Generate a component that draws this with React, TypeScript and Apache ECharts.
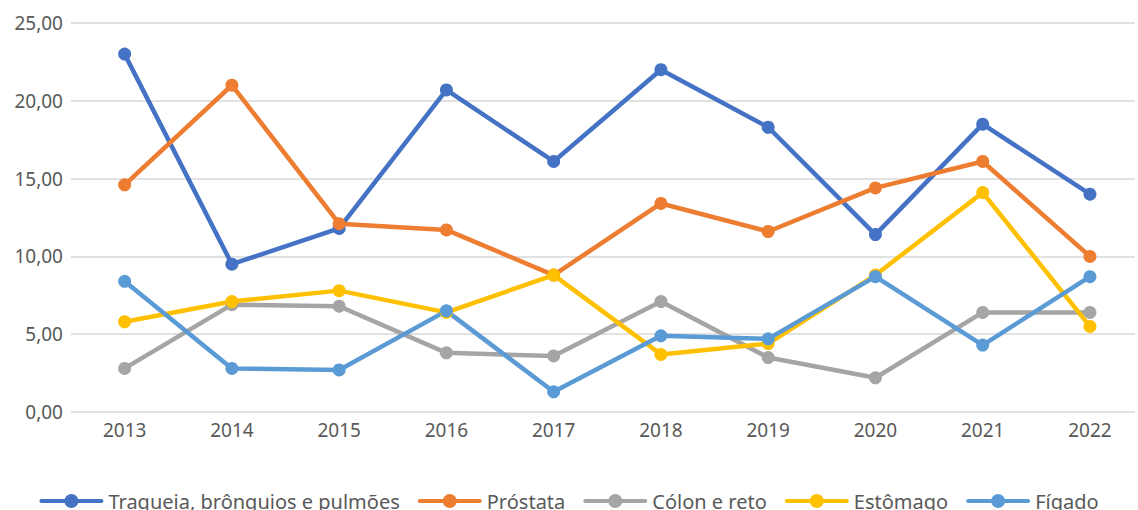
import React, { useEffect, useRef } from "react";
import * as echarts from "echarts";

const years = [2013, 2014, 2015, 2016, 2017, 2018, 2019, 2020, 2021, 2022];
const traqueia = [23.0, 9.5, 11.8, 20.7, 16.1, 22.0, 18.3, 11.4, 18.5, 14.0];
const prostata = [14.6, 21.0, 12.1, 11.7, 8.8, 13.4, 11.6, 14.4, 16.1, 10.0];
const colon = [2.8, 6.9, 6.8, 3.8, 3.6, 7.1, 3.5, 2.2, 6.4, 6.4];
const estomago = [5.8, 7.1, 7.8, 6.4, 8.8, 3.7, 4.4, 8.8, 14.1, 5.5];
const figado = [8.4, 2.8, 2.7, 6.5, 1.3, 4.9, 4.7, 8.7, 4.3, 8.7];

const seriesDefs = [
  { name: "Traqueia, brônquios e pulmões", data: traqueia, color: "#4472C4" },
  { name: "Próstata", data: prostata, color: "#ED7D31" },
  { name: "Cólon e reto", data: colon, color: "#A5A5A5" },
  { name: "Estômago", data: estomago, color: "#FFC000" },
  { name: "Fígado", data: figado, color: "#5B9BD5" },
];

const FONT = "'Noto Sans', sans-serif";
const LEGEND_ICON =
  "path://M2,5 L62,5 A2,2 0 0 1 62,9 L2,9 A2,2 0 0 1 2,5 Z M25,7 A7,7 0 1 1 39,7 A7,7 0 1 1 25,7 Z";

export default function App() {
  const ref = useRef<HTMLDivElement>(null);
  useEffect(() => {
    const chart = echarts.init(ref.current!, null, { renderer: "svg" });
    chart.setOption({
      animation: false,
      backgroundColor: "#ffffff",
      grid: { left: 71, top: 23, right: 0, height: 389, containLabel: false },
      legend: {
        top: 486,
        left: "center",
        itemWidth: 64,
        itemHeight: 14,
        itemGap: 18,
        textStyle: { color: "#595959", fontSize: 20, fontFamily: FONT },
        data: seriesDefs.map((s) => ({ name: s.name, icon: LEGEND_ICON })),
      },
      xAxis: {
        type: "value",
        min: 2012.5,
        max: 2022.42,
        interval: 0.5,
        axisLine: { show: false },
        axisTick: { show: false },
        splitLine: { show: false },
        axisLabel: {
          color: "#595959",
          fontSize: 19,
          fontFamily: FONT,
          margin: 8,
          showMinLabel: true,
          showMaxLabel: true,
          formatter: (v: number) => (Number.isInteger(v) ? String(v) : ""),
        },
      },
      yAxis: {
        type: "value",
        min: 0,
        max: 25,
        interval: 5,
        axisLine: { show: false },
        axisTick: { show: false },
        splitLine: { lineStyle: { color: "#D9D9D9", width: 1.5 } },
        axisLabel: {
          color: "#595959",
          fontSize: 19,
          fontFamily: FONT,
          margin: 8,
          formatter: (v: number) => v.toFixed(2).replace(".", ","),
        },
      },
      series: seriesDefs.map((s) => ({
        name: s.name,
        type: "line",
        data: years.map((y, i) => [y, s.data[i]]),
        symbol: "circle",
        symbolSize: 13,
        itemStyle: { color: s.color },
        lineStyle: { color: s.color, width: 4.5 },
      })),
    });
    return () => chart.dispose();
  }, []);
  return <div ref={ref} style={{ width: 1138, height: 510, position: "absolute", left: 0, top: 0 }} />;
}
